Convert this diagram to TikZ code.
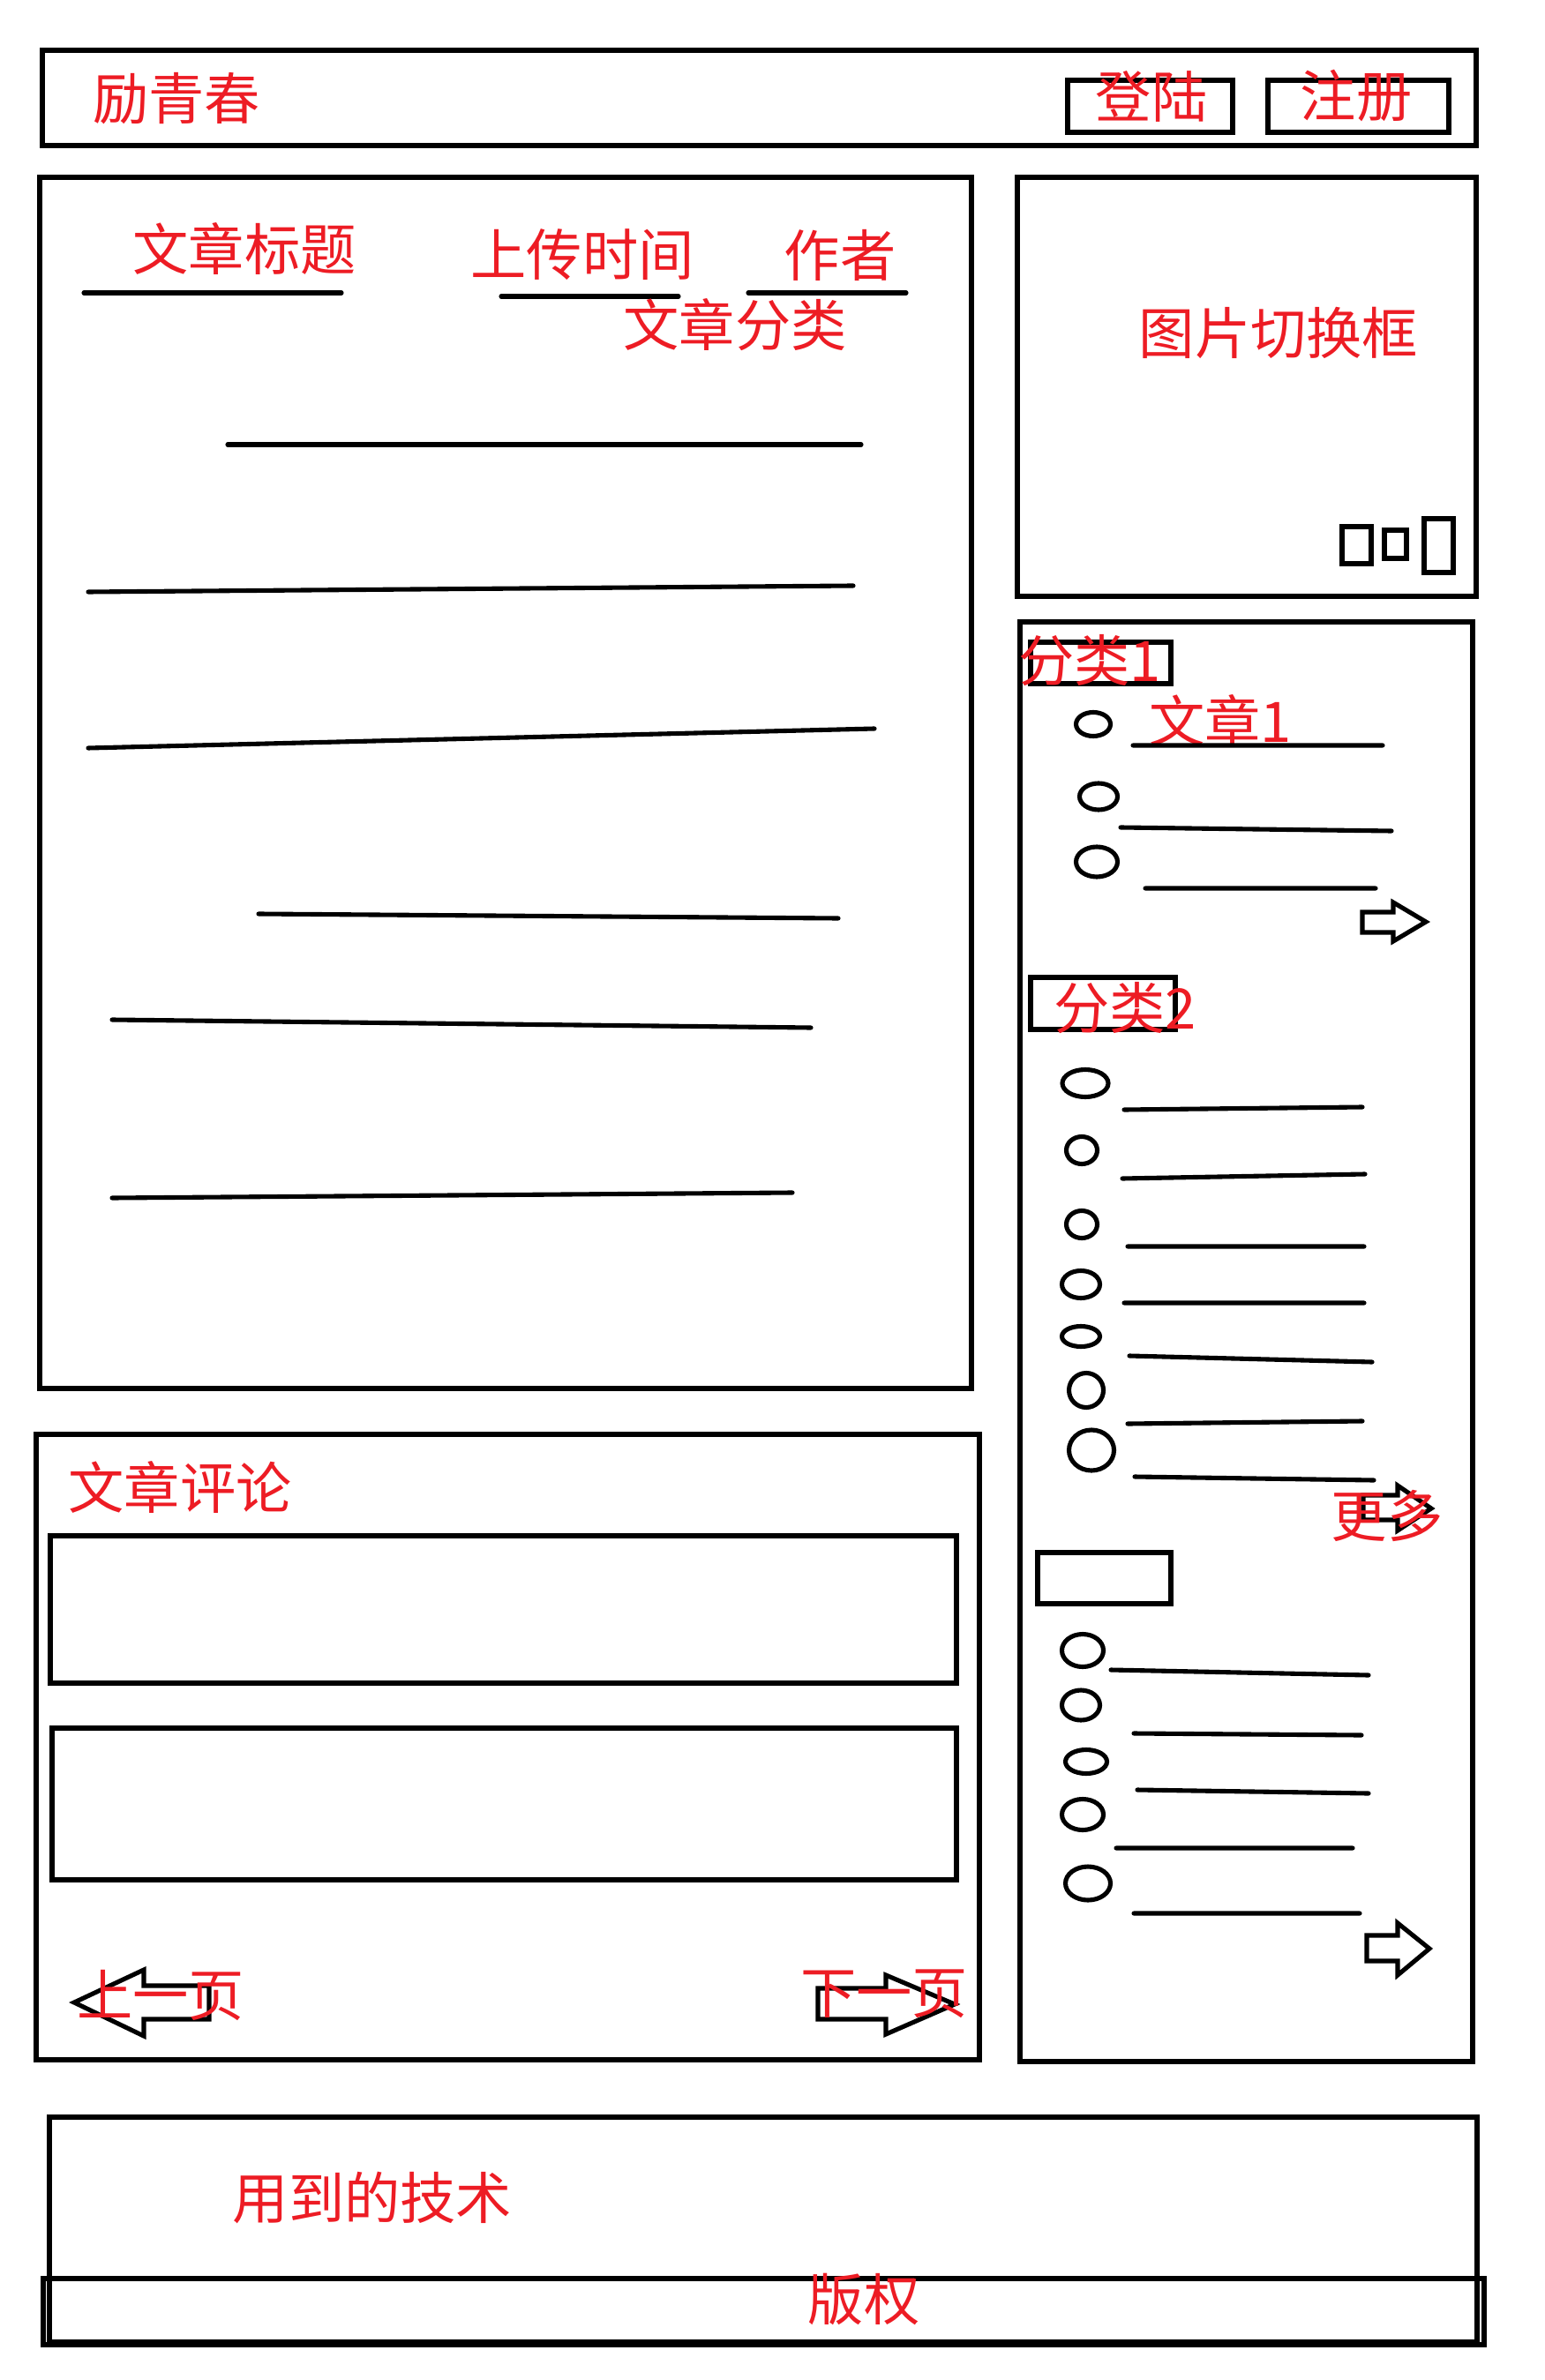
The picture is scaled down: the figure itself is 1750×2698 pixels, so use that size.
\documentclass[tikz,border=0pt]{standalone}
\usepackage{fontspec}
\newfontfamily\cjk{Noto Sans CJK SC}
\usetikzlibrary{positioning}
\definecolor{penred}{RGB}{237,28,36}

\begin{document}
\begin{tikzpicture}[
    x=0.01cm,y=-0.01cm,
    frame/.style={draw,line width=1.5pt},
    pen/.style={line width=1.45pt,line cap=round},
    note/.style={text=penred,font=\cjk\fontsize{18}{18}\selectfont,inner sep=0pt,anchor=center}
]
\useasboundingbox (0,0) rectangle (1750,2698);

% Header bar
\draw[frame] (48,57) rectangle (1673,165);
\node[note] (brand) at (200,112) {励青春};
\draw[frame] (1210,91) rectangle (1397,150);
\node[note] (login) at (1305,109) {登陆};
\draw[frame] (1437,91) rectangle (1642,150);
\node[note] (signup) at (1537,109) {注册};

% Article
\draw[frame] (45,201) rectangle (1101,1574);
\node[note] (title) at (277,282) {文章标题};
\draw[pen] (95,332) -- (387,332);
\node[note] (time) at (660,289) {上传时间};
\draw[pen] (568,336) -- (769,336);
\node[note] (author) at (952,289) {作者};
\draw[pen] (848,332) -- (1027,332);
\node[note] (cat) at (833,368) {文章分类};

\draw[pen] (258,504) -- (976,504);
\draw[pen] (100,671) -- (967,664);
\draw[pen] (100,848) -- (991,826);
\draw[pen] (293,1036) -- (950,1041);
\draw[pen] (127,1156) -- (919,1165);
\draw[pen] (127,1358) -- (898,1352);

% Picture slider
\draw[frame] (1153,201) rectangle (1673,676);
\node[note] (slider) at (1449,377) {图片切换框};
\draw[pen] (1521,597) rectangle (1554,639);
\draw[pen] (1569,601) rectangle (1594,633);
\draw[pen] (1614,588) rectangle (1647,649);

% Sidebar
\draw[frame] (1156,705) rectangle (1669,2337);

% category 1
\draw[pen] (1168,728) rectangle (1327,775);
\node[note] (cat1) at (1235,749) {分类1};
\node[note] (post1) at (1383,817) {文章1};
\foreach \cx/\cy/\rx/\ry/\ax/\ay/\bx/\by in {
    1239/821/19.5/13.5/1284/845/1567/845,
    1245/903/21.5/15/1270/938/1577/942,
    1243/977/23.5/17/1298/1007/1559/1007}
  \draw[pen] (\cx,\cy) ellipse [x radius=\rx*0.01cm,y radius=\ry*0.01cm]
             (\ax,\ay) -- (\bx,\by);
\draw[pen,line cap=butt] (1544,1034) -- (1579,1034) -- (1579,1023) -- (1616,1045)
  -- (1579,1067) -- (1579,1057) -- (1544,1057) -- cycle;

% category 2
\draw[pen] (1168,1108) rectangle (1332,1167);
\node[note] (cat2) at (1275,1143) {分类2};
\foreach \cx/\cy/\rx/\ry/\ax/\ay/\bx/\by in {
    1230/1228/26/15.5/1274/1258/1544/1255,
    1226/1304/17.5/15.5/1272/1336/1547/1331,
    1226/1388/17.5/15.5/1278/1413/1546/1413,
    1225/1456/21.5/15.5/1274/1477/1546/1477,
    1225/1515/21.5/11.5/1280/1537/1555/1544,
    1231/1576/19.5/19.5/1278/1614/1544/1611,
    1237/1644/25.5/23/1286/1674/1557/1678}
  \draw[pen] (\cx,\cy) ellipse [x radius=\rx*0.01cm,y radius=\ry*0.01cm]
             (\ax,\ay) -- (\bx,\by);
\draw[pen,line cap=butt] (1545,1695) -- (1584,1695) -- (1584,1684) -- (1622,1710)
  -- (1584,1735) -- (1584,1723) -- (1545,1723) -- cycle;
\node[note] (more) at (1572,1718) {更多};

% category 3
\draw[pen] (1176,1760) rectangle (1327,1818);
\foreach \cx/\cy/\rx/\ry/\ax/\ay/\bx/\by in {
    1227/1871/23.5/18.5/1259/1893/1551/1899,
    1225/1933/21.5/17/1285/1965/1543/1967,
    1231/1997/23.5/13.5/1289/2029/1551/2033,
    1227/2057/23.5/17.5/1265/2095/1533/2095,
    1233/2135/25.5/19/1285/2169/1541/2169}
  \draw[pen] (\cx,\cy) ellipse [x radius=\rx*0.01cm,y radius=\ry*0.01cm]
             (\ax,\ay) -- (\bx,\by);
\draw[pen,line cap=butt] (1549,2194) -- (1584,2194) -- (1584,2180) -- (1620,2209)
  -- (1584,2239) -- (1584,2223) -- (1549,2223) -- cycle;

% Comments
\draw[frame] (41,1626) rectangle (1110,2335);
\node[note] (comments) at (204,1686) {文章评论};
\draw[frame] (57,1741) rectangle (1084,1908);
\draw[frame] (59,1959) rectangle (1084,2131);
\draw[pen,line cap=butt] (84,2270) -- (163,2233) -- (163,2251) -- (237,2251)
  -- (237,2289) -- (163,2289) -- (163,2308) -- cycle;
\node[note] (prev) at (182,2262) {上一页};
\draw[pen,line cap=butt] (927,2254) -- (1004,2254) -- (1004,2239) -- (1082,2272)
  -- (1004,2306) -- (1004,2289) -- (927,2289) -- cycle;
\node[note] (next) at (1002,2260) {下一页};

% Footer
\draw[frame] (56,2400) rectangle (1674,2655);
\node[note] (tech) at (422,2491) {用到的技术};
\draw[frame,line width=1.7pt] (49,2583) rectangle (1682,2658);
\node[note] (copy) at (979,2607) {版权};

\end{tikzpicture}
\end{document}
